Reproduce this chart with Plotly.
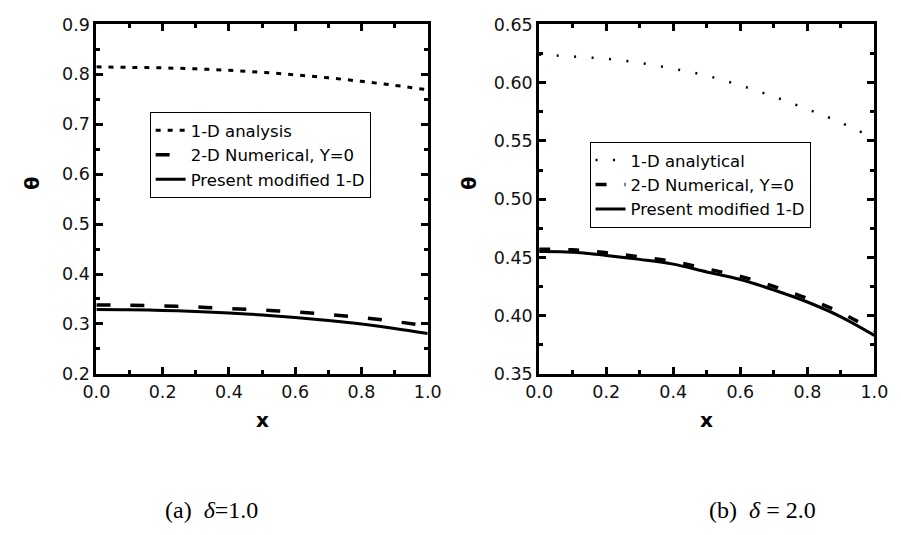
import plotly.graph_objects as go

x_vals = [0.0, 0.1, 0.2, 0.3, 0.4, 0.5, 0.6, 0.7, 0.8, 0.9, 1.0]

# (a) delta = 1.0
a_1d = [0.815, 0.814, 0.813, 0.811, 0.808, 0.804, 0.799, 0.793, 0.786, 0.778, 0.769]
a_2d = [0.338, 0.3375, 0.336, 0.334, 0.331, 0.328, 0.324, 0.319, 0.313, 0.305, 0.296]
a_mod = [0.329, 0.3285, 0.327, 0.325, 0.322, 0.318, 0.313, 0.307, 0.300, 0.291, 0.281]

# (b) delta = 2.0
b_1d = [0.624, 0.6225, 0.6205, 0.617, 0.612, 0.606, 0.5977, 0.588, 0.5773, 0.5657, 0.552]
b_2d = [0.457, 0.4565, 0.454, 0.4505, 0.4465, 0.4402, 0.4337, 0.425, 0.4147, 0.4025, 0.387]
b_mod = [0.455, 0.4545, 0.4517, 0.4483, 0.4442, 0.4375, 0.431, 0.422, 0.4117, 0.399, 0.383]

names_a = ["1-D analysis", "2-D Numerical, Y=0", "Present modified 1-D"]
names_b = ["1-D analytical", "2-D Numerical, Y=0", "Present modified 1-D"]
captions = ["(a)  <i>δ</i>=1.0", "(b)  <i>δ</i> = 2.0"]

FONT = "DejaVu Sans, Arial, sans-serif"
SERIF = "Times New Roman, Liberation Serif, serif"

fig = go.Figure()

# Left panel
fig.add_trace(go.Scatter(x=x_vals, y=a_1d, mode="lines", name=names_a[0], line_shape="spline",
                         line=dict(color="black", width=3, dash="5px,7px"), xaxis="x", yaxis="y", legend="legend"))
fig.add_trace(go.Scatter(x=x_vals, y=a_2d, mode="lines", name=names_a[1], line_shape="spline",
                         line=dict(color="black", width=3.5, dash="14px,20px"), xaxis="x", yaxis="y", legend="legend"))
fig.add_trace(go.Scatter(x=x_vals, y=a_mod, mode="lines", name=names_a[2], line_shape="spline",
                         line=dict(color="black", width=3), xaxis="x", yaxis="y", legend="legend"))

# Right panel
fig.add_trace(go.Scatter(x=x_vals, y=b_1d, mode="lines", name=names_b[0], line_shape="spline",
                         line=dict(color="black", width=2.5, dash="2px,15.5px"), xaxis="x2", yaxis="y2", legend="legend2"))
fig.add_trace(go.Scatter(x=x_vals, y=b_2d, mode="lines", name=names_b[1], line_shape="spline",
                         line=dict(color="black", width=3.5, dash="11px,18px"), xaxis="x2", yaxis="y2", legend="legend2"))
fig.add_trace(go.Scatter(x=x_vals, y=b_mod, mode="lines", name=names_b[2], line_shape="spline",
                         line=dict(color="black", width=3), xaxis="x2", yaxis="y2", legend="legend2"))

W, H = 901, 535
top_px, bot_px = 15, 378
ydom = [(H - bot_px) / H, (H - top_px) / H]

TICKFONT = dict(family=FONT, size=17.5, color="#111")


def xax(domain, anchor):
    return dict(domain=domain, anchor=anchor, range=[0, 1], dtick=0.2, tick0=0, tickformat=".1f",
                showline=True, linecolor="black", linewidth=3, mirror="ticks",
                ticks="inside", ticklen=7, tickwidth=3, tickcolor="black",
                minor=dict(ticks="inside", ticklen=4, tickwidth=3, tickcolor="black", dtick=0.1),
                showgrid=False, zeroline=False, tickfont=TICKFONT)


def yax(domain, anchor, rng, dt, fmt):
    return dict(domain=domain, anchor=anchor, range=rng, dtick=dt, tick0=rng[0], tickformat=fmt,
                showline=True, linecolor="black", linewidth=3, mirror="ticks",
                ticks="inside", ticklen=7, tickwidth=3, tickcolor="black",
                minor=dict(ticks="inside", ticklen=4, tickwidth=3, tickcolor="black", dtick=dt / 2),
                showgrid=False, zeroline=False, tickfont=TICKFONT)


legend_style = dict(bgcolor="white", bordercolor="black", borderwidth=1,
                    font=dict(family=FONT, size=16.5, color="black"),
                    xanchor="left", yanchor="top", tracegroupgap=0, itemwidth=30)

fig.update_layout(
    width=W, height=H, margin=dict(l=0, r=0, t=0, b=0),
    paper_bgcolor="white", plot_bgcolor="white",
    xaxis=xax([85 / W, 427 / W], "y"),
    yaxis=yax(ydom, "x", [0.2, 0.9], 0.1, ".1f"),
    xaxis2=xax([542 / W, 888 / W], "y2"),
    yaxis2=yax(ydom, "x2", [0.35, 0.65], 0.05, ".2f"),
    legend=dict(x=140 / W, y=(H - 106) / H, **legend_style),
    legend2=dict(x=594 / W, y=(H - 137) / H, **legend_style),
    showlegend=True,
)

annots = []
for xc in [19, 470]:
    annots.append(dict(text="<b>θ</b>", x=xc / W, y=(H - 180) / H, xref="paper", yref="paper",
                       xanchor="center", yanchor="middle",
                       showarrow=False, textangle=-90, font=dict(family=FONT, size=19, color="black")))
for xc in [256, 715]:
    annots.append(dict(text="<b>x</b>", x=xc / W, y=(H - 426) / H, xref="paper", yref="paper",
                       xanchor="center", yanchor="middle",
                       showarrow=False, font=dict(family=FONT, size=20, color="black")))
for xc, cap in zip([204, 772], captions):
    annots.append(dict(text=cap, x=xc / W, y=(H - 519) / H, xref="paper", yref="paper",
                       xanchor="center", yanchor="middle",
                       showarrow=False, font=dict(family=SERIF, size=24, color="black")))
fig.update_layout(annotations=annots)

fig.write_html("out.html", post_script="document.body.style.margin='0';document.body.style.overflow='hidden';")
